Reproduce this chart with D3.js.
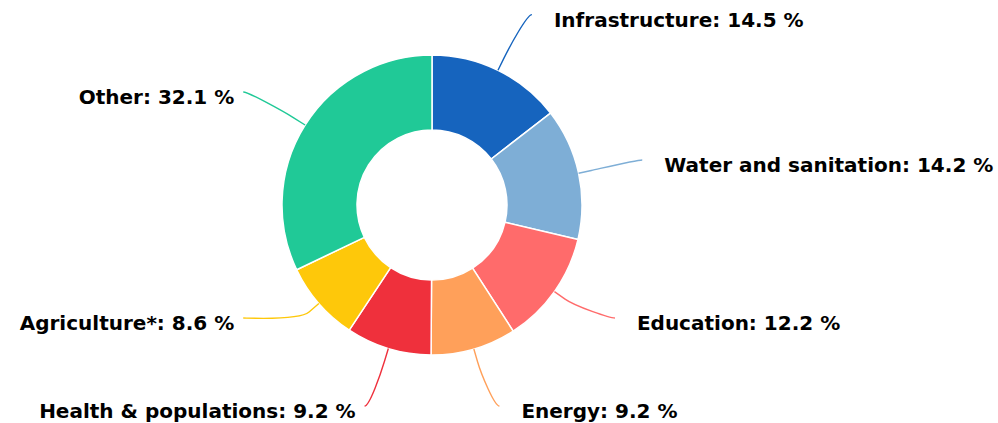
<!DOCTYPE html>
<html>
<head>
<meta charset="utf-8">
<script src="https://cdn.jsdelivr.net/npm/d3@7"></script>
<style>
  html, body { margin: 0; padding: 0; background: #ffffff; }
  svg { display: block; }
</style>
</head>
<body>
<div id="chart"></div>
<script>
// ---- Data ----
const categories = ["Infrastructure", "Water and sanitation", "Education", "Energy",
                    "Health & populations", "Agriculture*", "Other"];
const values = [14.5, 14.2, 12.2, 9.2, 9.2, 8.6, 32.1];
const colors = ["#1664be", "#7eaed6", "#ff6b6b", "#ffa05a", "#ef303c", "#fec80a", "#20c997"];

// ---- Layout ----
const W = 998, H = 423;
const cx = 432, cy = 205;
const outerR = 150, innerR = 75;
const labelRy = 212;         // radius used for natural label heights
const labelRxRight = 215;    // horizontal label radius, right half
const labelRxLeft = 220;     // horizontal label radius, left half
const bottomRx = 212;        // radius for labels pushed against the bottom edge
const breakOffset = 13;      // connector break distance beyond slice edge
const gapRight = 22, gapLeft = 9;
const minSpacing = 88;       // minimum vertical spacing between labels on one side
const bottomLimit = H - 17;  // lowest allowed connector end

const svg = d3.select("#chart").append("svg")
  .attr("width", W).attr("height", H);

const pie = d3.pie().sort(null).value(d => d.value);
const data = categories.map((c, i) => ({ name: c, value: values[i], color: colors[i] }));
const arcs = pie(data);

const arc = d3.arc().innerRadius(innerR).outerRadius(outerR);

const g = svg.append("g").attr("transform", `translate(${cx},${cy})`);

g.selectAll("path.slice")
  .data(arcs)
  .join("path")
  .attr("class", "slice")
  .attr("d", arc)
  .attr("fill", d => d.data.color)
  .attr("stroke", "#ffffff")
  .attr("stroke-width", 1.5)
  .attr("stroke-linejoin", "round");

// ---- Label layout ----
const labels = arcs.map(a => {
  const mid = (a.startAngle + a.endAngle) / 2;
  const s = Math.sin(mid), c = -Math.cos(mid);
  return {
    a, mid, right: s >= 0,
    y: labelRy * c,
    clamped: false,
    touch: [outerR * s, outerR * c],
    brk: [(outerR + breakOffset) * s, (outerR + breakOffset) * c]
  };
});

[true, false].forEach(side => {
  const grp = labels.filter(l => l.right === side).sort((p, q) => p.y - q.y);
  const maxY = bottomLimit - cy;
  for (let i = grp.length - 1; i >= 0; i--) {
    const lim = (i === grp.length - 1) ? maxY : grp[i + 1].y - minSpacing;
    if (grp[i].y > lim) { grp[i].y = lim; if (i === grp.length - 1) grp[i].clamped = true; }
  }
});

labels.forEach(l => {
  const R = l.clamped ? bottomRx : (l.right ? labelRxRight : labelRxLeft);
  const dx = Math.sqrt(Math.max(0, R * R - l.y * l.y));
  l.x = l.right ? dx : -dx;
});

// connectors
g.selectAll("path.connector")
  .data(labels)
  .join("path")
  .attr("class", "connector")
  .attr("fill", "none")
  .attr("stroke", d => d.a.data.color)
  .attr("stroke-width", 1.4)
  .attr("d", d => {
    const c1x = d.x + (d.right ? -5 : 5), c1y = d.y;
    const c2x = 2 * d.brk[0] - d.touch[0], c2y = 2 * d.brk[1] - d.touch[1];
    return `M${d.x},${d.y} C${c1x},${c1y} ${c2x},${c2y} ${d.brk[0]},${d.brk[1]} L${d.touch[0]},${d.touch[1]}`;
  });

// texts
g.selectAll("text.label")
  .data(labels)
  .join("text")
  .attr("class", "label")
  .attr("x", d => d.right ? d.x + gapRight : d.x - gapLeft)
  .attr("y", d => d.y + 12)
  .attr("text-anchor", d => d.right ? "start" : "end")
  .attr("font-family", "'DejaVu Sans', Verdana, sans-serif")
  .attr("font-weight", "bold")
  .attr("font-size", "20px")
  .attr("fill", "#000000")
  .text(d => `${d.a.data.name}: ${d.a.data.value} %`);
</script>
</body>
</html>
